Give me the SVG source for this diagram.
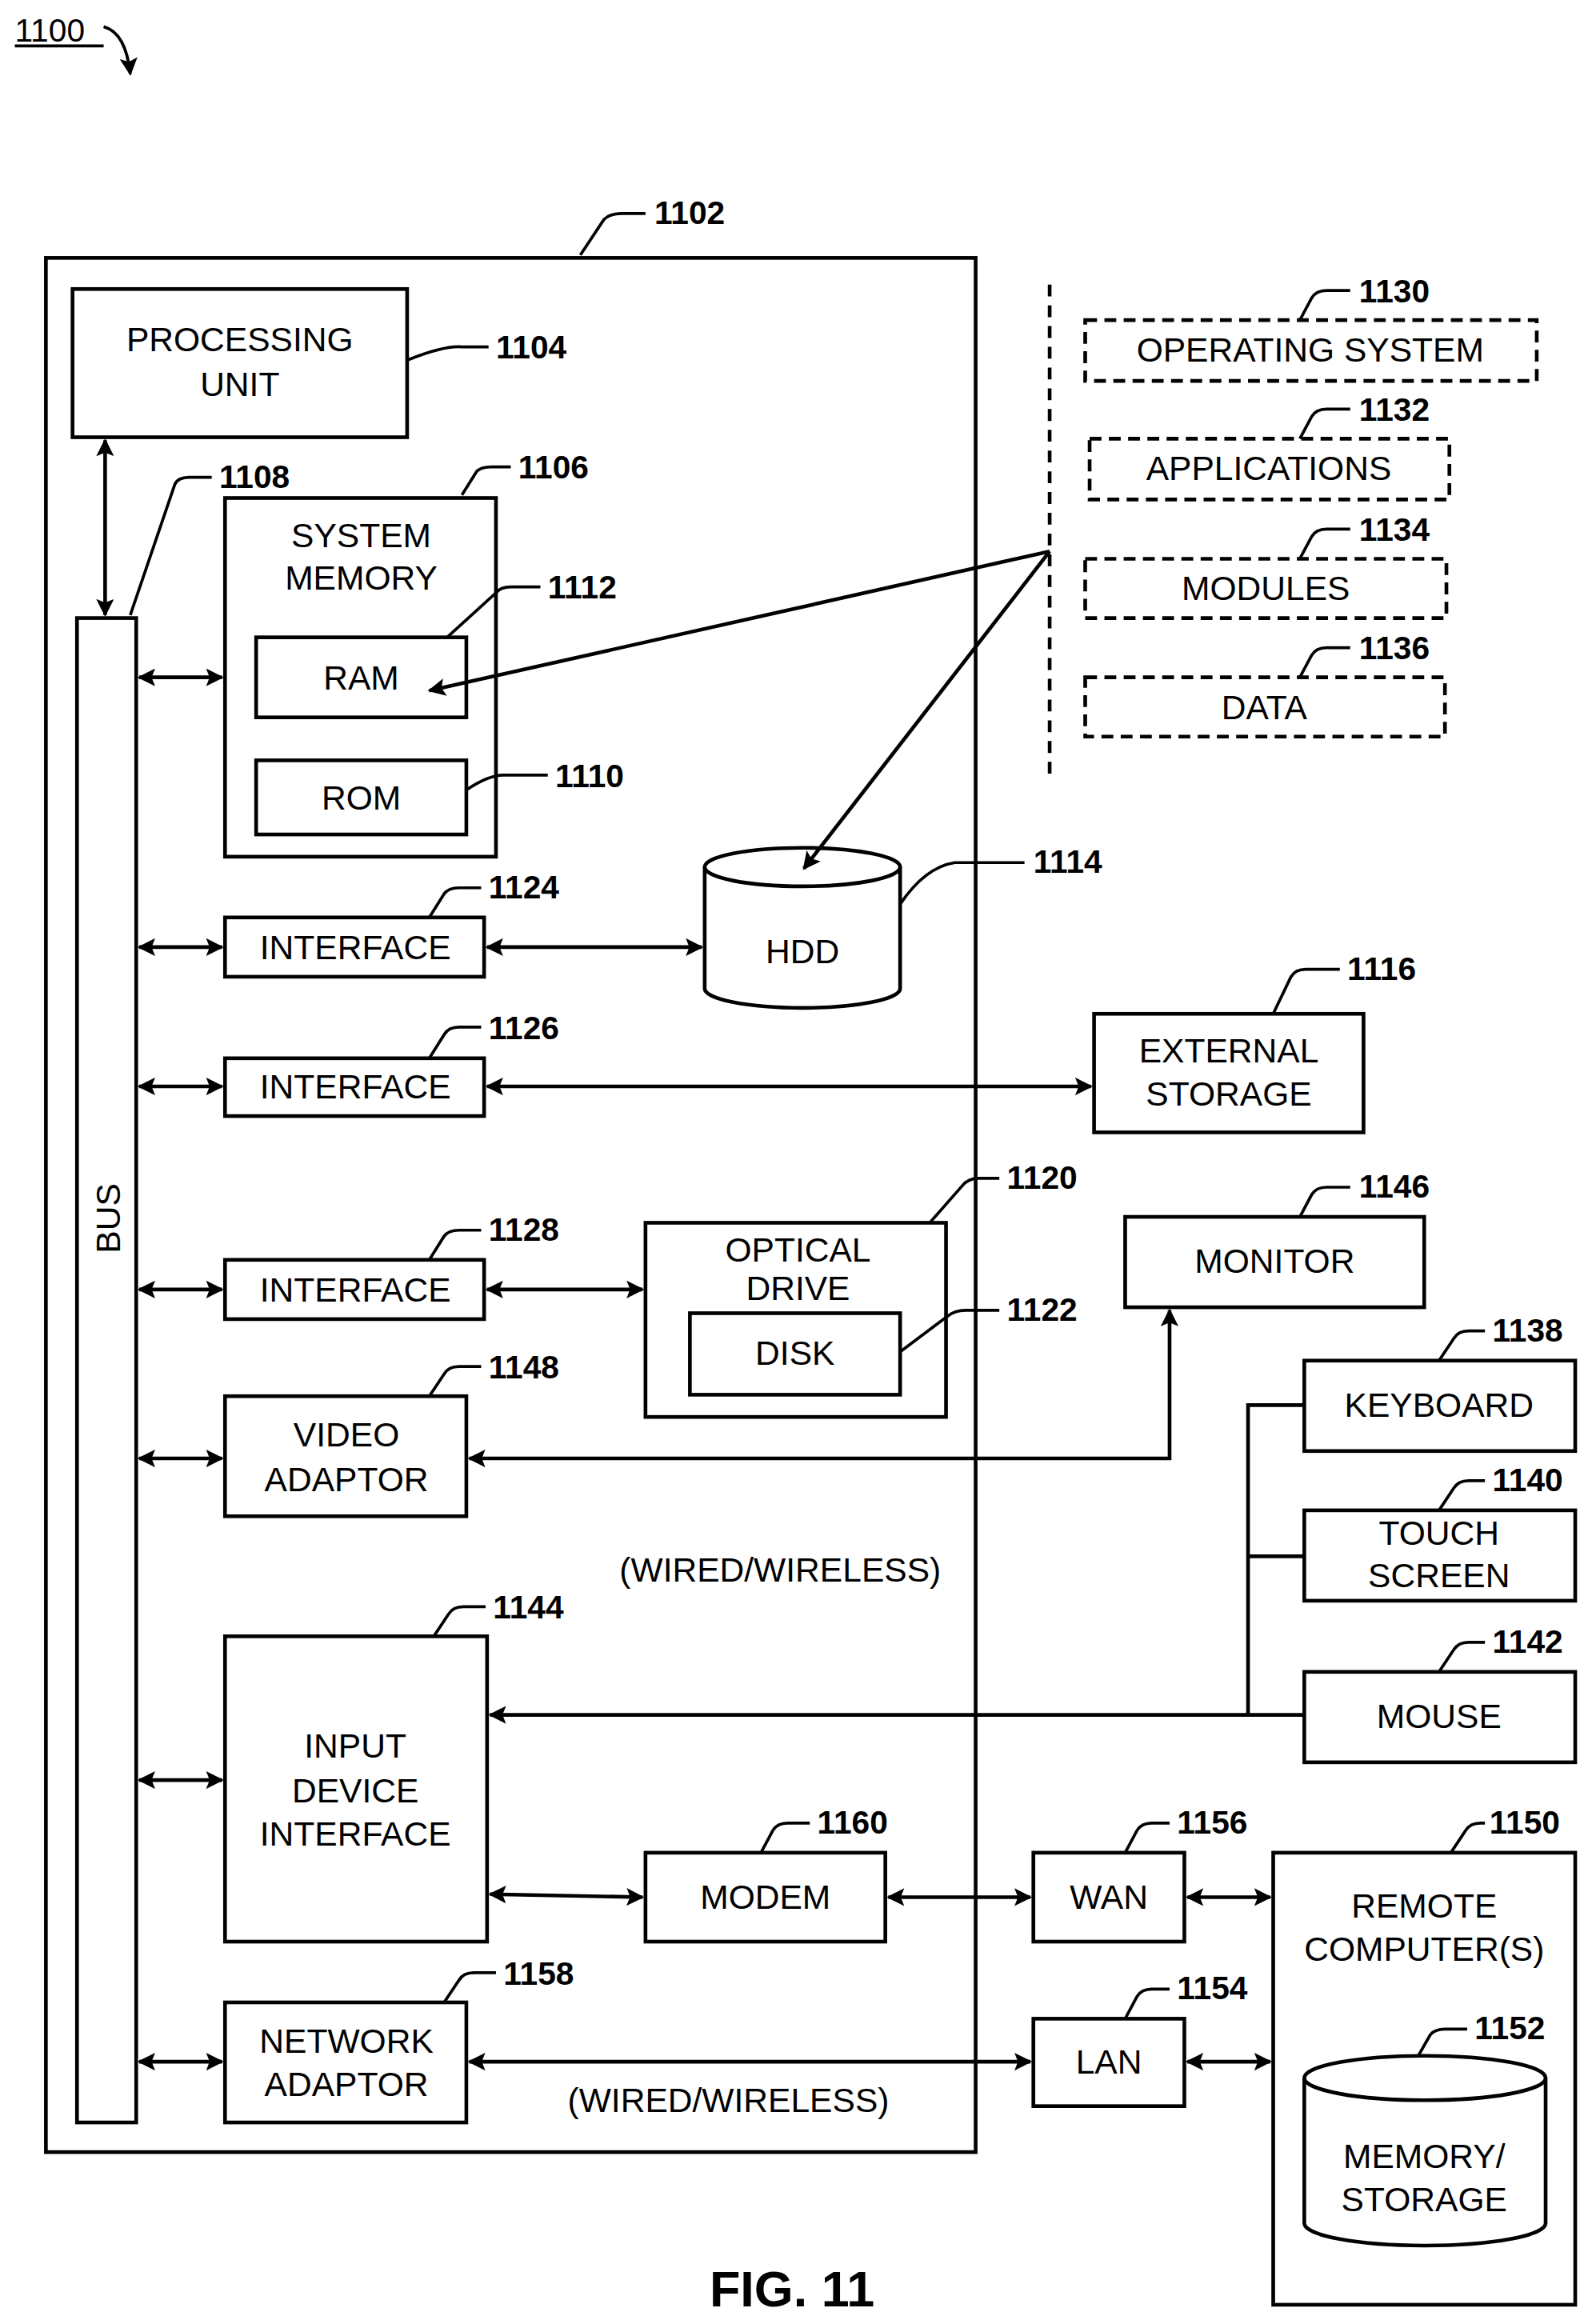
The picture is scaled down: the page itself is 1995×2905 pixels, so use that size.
<svg xmlns="http://www.w3.org/2000/svg" width="1995" height="2905" viewBox="0 0 1995 2905">
<defs>
<marker id="a" viewBox="0 0 10 10" refX="9" refY="5" markerWidth="6" markerHeight="6" orient="auto-start-reverse" markerUnits="userSpaceOnUse"><path d="M0,0 L10,5 L0,10 z" fill="#000"/></marker>
<marker id="m" viewBox="0 0 10 10" refX="9" refY="5" markerWidth="16" markerHeight="12" orient="auto-start-reverse" markerUnits="userSpaceOnUse"><path d="M0,0 L10,5 L0,10 L2,5 z" fill="#000"/></marker>
<style>
.b{fill:#fff;stroke:#000;stroke-width:2.5}
.d{fill:#fff;stroke:#000;stroke-width:2.5;stroke-dasharray:8,5}
.t{font-family:"Liberation Sans",Arial,sans-serif;font-size:23px;text-anchor:middle;fill:#000}
.n{font-family:"Liberation Sans",Arial,sans-serif;font-size:22px;font-weight:bold;fill:#000}
.l{fill:none;stroke:#000;stroke-width:2}
.c{fill:none;stroke:#000;stroke-width:2.5;marker-start:url(#m);marker-end:url(#m)}
.e{fill:none;stroke:#000;stroke-width:2.5;marker-end:url(#m)}
</style>
</defs>
<rect width="1995" height="2905" fill="#fff"/>
<g transform="scale(1.8506,1.8527)">
<g id="title">
<text x="10" y="28" class="t" style="text-anchor:start;font-size:22px">1100</text>
<line x1="10" y1="31" x2="70" y2="31" stroke="#000" stroke-width="2"/>
<path d="M70,18 Q85,22 88,50" class="l" marker-end="url(#m)"/>
<text x="535" y="1556" class="t" style="font-weight:bold;font-size:34px">FIG. 11</text>
</g>
<g id="n1102"><rect x="31" y="174" width="628" height="1278" class="b"/>
<path d="M392,172 L408,148 Q412,144 420,144 L436,144" class="l"/><text x="442" y="151" class="n">1102</text></g>
<g id="n1104"><rect x="49" y="195" width="226" height="100" class="b"/>
<text x="162" y="237" class="t">PROCESSING</text><text x="162" y="267" class="t">UNIT</text>
<path d="M275,243 Q300,233 312,234 L330,234" class="l"/><text x="335" y="242" class="n">1104</text></g>
<g id="bus"><rect x="52" y="417" width="40" height="1015" class="b"/>
<text class="t" transform="translate(81,822) rotate(-90)">BUS</text>
<path d="M88,415 L118,327 Q120,322 128,322 L143,322" class="l"/><text x="148" y="329" class="n">1108</text></g>
<g id="n1106"><rect x="152" y="336" width="183" height="242" class="b"/>
<text x="244" y="369" class="t">SYSTEM</text><text x="244" y="398" class="t">MEMORY</text>
<path d="M312,334 L322,318 Q325,315 332,315 L345,315" class="l"/><text x="350" y="323" class="n">1106</text></g>
<g id="n1112"><rect x="173" y="430" width="142" height="54" class="b"/><text x="244" y="465" class="t">RAM</text>
<path d="M302,430 L335,400 Q338,396 345,396 L365,396" class="l"/><text x="370" y="404" class="n">1112</text></g>
<g id="n1110"><rect x="173" y="513" width="142" height="50" class="b"/><text x="244" y="546" class="t">ROM</text>
<path d="M315,533 Q330,523 340,523 L370,523" class="l"/><text x="375" y="531" class="n">1110</text></g>
<g id="dash"><line x1="709" y1="192" x2="709" y2="522" stroke="#000" stroke-width="2.5" stroke-dasharray="8,6"/></g>
<g id="n1130"><rect x="733" y="216" width="305" height="41" class="d"/><text x="885" y="244" class="t">OPERATING SYSTEM</text>
<path d="M878,216 L886,201 Q889,196 896,196 L912,196" class="l"/><text x="918" y="204" class="n">1130</text></g>
<g id="n1132"><rect x="736" y="296" width="243" height="41" class="d"/><text x="857" y="324" class="t">APPLICATIONS</text>
<path d="M878,296 L886,281 Q889,276 896,276 L912,276" class="l"/><text x="918" y="284" class="n">1132</text></g>
<g id="n1134"><rect x="733" y="377" width="244" height="40" class="d"/><text x="855" y="405" class="t">MODULES</text>
<path d="M878,377 L886,362 Q889,357 896,357 L912,357" class="l"/><text x="918" y="365" class="n">1134</text></g>
<g id="n1136"><rect x="733" y="457" width="243" height="40" class="d"/><text x="854" y="485" class="t">DATA</text>
<path d="M878,457 L886,442 Q889,437 896,437 L912,437" class="l"/><text x="918" y="445" class="n">1136</text></g>
<g id="n1114"><path d="M476,585 L476,667 A66,13 0 0 0 608,667 L608,585" class="b"/><ellipse cx="542" cy="585" rx="66" ry="13" class="b"/>
<text x="542" y="650" class="t">HDD</text>
<path d="M608,610 Q625,585 645,582 L692,582" class="l"/><text x="698" y="589" class="n">1114</text></g>
<g id="n1124"><rect x="152" y="619" width="175" height="40" class="b"/><text x="240" y="647" class="t">INTERFACE</text>
<path d="M290,619 L300,603 Q303,599 310,599 L325,599" class="l"/><text x="330" y="606" class="n">1124</text></g>
<g id="n1126"><rect x="152" y="714" width="175" height="39" class="b"/><text x="240" y="741" class="t">INTERFACE</text>
<path d="M290,714 L300,698 Q303,693 310,693 L325,693" class="l"/><text x="330" y="701" class="n">1126</text></g>
<g id="n1116"><rect x="739" y="684" width="182" height="80" class="b"/><text x="830" y="717" class="t">EXTERNAL</text><text x="830" y="746" class="t">STORAGE</text>
<path d="M860,684 L872,659 Q875,654 882,654 L905,654" class="l"/><text x="910" y="661" class="n">1116</text></g>
<g id="n1128"><rect x="152" y="850" width="175" height="40" class="b"/><text x="240" y="878" class="t">INTERFACE</text>
<path d="M290,850 L300,834 Q303,830 310,830 L325,830" class="l"/><text x="330" y="837" class="n">1128</text></g>
<g id="n1120"><rect x="436" y="825" width="203" height="131" class="b"/><text x="539" y="851" class="t">OPTICAL</text><text x="539" y="877" class="t">DRIVE</text>
<path d="M628,825 L650,800 Q654,795 661,795 L675,795" class="l"/><text x="680" y="802" class="n">1120</text></g>
<g id="n1122"><rect x="466" y="886" width="142" height="55" class="b"/><text x="537" y="921" class="t">DISK</text>
<path d="M608,912 L640,888 Q645,884 652,884 L675,884" class="l"/><text x="680" y="891" class="n">1122</text></g>
<g id="n1148"><rect x="152" y="942" width="163" height="81" class="b"/><text x="234" y="976" class="t">VIDEO</text><text x="234" y="1006" class="t">ADAPTOR</text>
<path d="M290,942 L300,927 Q303,922 310,922 L325,922" class="l"/><text x="330" y="930" class="n">1148</text></g>
<g id="n1146"><rect x="760" y="821" width="202" height="61" class="b"/><text x="861" y="859" class="t">MONITOR</text>
<path d="M878,821 L886,806 Q889,801 896,801 L912,801" class="l"/><text x="918" y="808" class="n">1146</text></g>
<g id="n1144"><rect x="152" y="1104" width="177" height="206" class="b"/>
<text x="240" y="1186" class="t">INPUT</text><text x="240" y="1216" class="t">DEVICE</text><text x="240" y="1245" class="t">INTERFACE</text>
<path d="M293,1104 L303,1089 Q306,1084 313,1084 L328,1084" class="l"/><text x="333" y="1092" class="n">1144</text></g>
<g id="n1138"><rect x="881" y="918" width="183" height="61" class="b"/><text x="972" y="956" class="t">KEYBOARD</text>
<path d="M972,918 L982,903 Q985,898 992,898 L1003,898" class="l"/><text x="1008" y="905" class="n">1138</text></g>
<g id="n1140"><rect x="881" y="1019" width="183" height="61" class="b"/><text x="972" y="1042" class="t">TOUCH</text><text x="972" y="1071" class="t">SCREEN</text>
<path d="M972,1019 L982,1004 Q985,999 992,999 L1003,999" class="l"/><text x="1008" y="1006" class="n">1140</text></g>
<g id="n1142"><rect x="881" y="1128" width="183" height="61" class="b"/><text x="972" y="1166" class="t">MOUSE</text>
<path d="M972,1128 L982,1113 Q985,1108 992,1108 L1003,1108" class="l"/><text x="1008" y="1115" class="n">1142</text></g>
<g id="n1160"><rect x="436" y="1250" width="162" height="60" class="b"/><text x="517" y="1288" class="t">MODEM</text>
<path d="M514,1250 L522,1235 Q525,1230 532,1230 L547,1230" class="l"/><text x="552" y="1237" class="n">1160</text></g>
<g id="n1156"><rect x="698" y="1250" width="102" height="60" class="b"/><text x="749" y="1288" class="t">WAN</text>
<path d="M760,1250 L768,1235 Q771,1230 778,1230 L790,1230" class="l"/><text x="795" y="1237" class="n">1156</text></g>
<g id="n1154"><rect x="698" y="1362" width="102" height="59" class="b"/><text x="749" y="1399" class="t">LAN</text>
<path d="M760,1362 L768,1347 Q771,1342 778,1342 L790,1342" class="l"/><text x="795" y="1349" class="n">1154</text></g>
<g id="n1158"><rect x="152" y="1351" width="163" height="81" class="b"/><text x="234" y="1385" class="t">NETWORK</text><text x="234" y="1414" class="t">ADAPTOR</text>
<path d="M300,1351 L310,1336 Q313,1331 320,1331 L335,1331" class="l"/><text x="340" y="1339" class="n">1158</text></g>
<g id="n1150"><rect x="860" y="1250" width="204" height="305" class="b"/><text x="962" y="1294" class="t">REMOTE</text><text x="962" y="1323" class="t">COMPUTER(S)</text>
<path d="M980,1250 L990,1235 Q993,1230 1000,1230 L1003,1230" class="l"/><text x="1006" y="1237" class="n">1150</text></g>
<g id="n1152"><path d="M881,1402 L881,1500 A81,15 0 0 0 1044,1500 L1044,1402" class="b"/><ellipse cx="962.5" cy="1402" rx="81.5" ry="15" class="b"/>
<text x="962" y="1463" class="t">MEMORY/</text><text x="962" y="1492" class="t">STORAGE</text>
<path d="M958,1387 L966,1373 Q969,1369 976,1369 L991,1369" class="l"/><text x="996" y="1376" class="n">1152</text></g>
<g id="labels"><text x="527" y="1067" class="t">(WIRED/WIRELESS)</text><text x="492" y="1425" class="t">(WIRED/WIRELESS)</text></g>
<g id="connectors">
<line x1="71" y1="297" x2="71" y2="415" class="c"/>
<line x1="94" y1="457" x2="150" y2="457" class="c"/>
<line x1="709" y1="372" x2="290" y2="466" class="e"/>
<line x1="709" y1="372" x2="543" y2="586" class="e"/>
<line x1="94" y1="639" x2="150" y2="639" class="c"/>
<line x1="329" y1="639" x2="474" y2="639" class="c"/>
<line x1="94" y1="733" x2="150" y2="733" class="c"/>
<line x1="329" y1="733" x2="737" y2="733" class="c"/>
<line x1="94" y1="870" x2="150" y2="870" class="c"/>
<line x1="329" y1="870" x2="434" y2="870" class="c"/>
<line x1="94" y1="984" x2="150" y2="984" class="c"/>
<path d="M317,984 L790,984 L790,884" class="c"/>
<path d="M881,948 L843,948 L843,1157 M843,1050 L881,1050" class="l" style="stroke-width:2.5"/>
<line x1="881" y1="1157" x2="331" y2="1157" class="e"/>
<line x1="94" y1="1201" x2="150" y2="1201" class="c"/>
<line x1="331" y1="1278" x2="434" y2="1280" class="c"/>
<line x1="600" y1="1280" x2="696" y2="1280" class="c"/>
<line x1="802" y1="1280" x2="858" y2="1280" class="c"/>
<line x1="94" y1="1391" x2="150" y2="1391" class="c"/>
<line x1="317" y1="1391" x2="696" y2="1391" class="c"/>
<line x1="802" y1="1391" x2="858" y2="1391" class="c"/>
</g>
</g>
</svg>
